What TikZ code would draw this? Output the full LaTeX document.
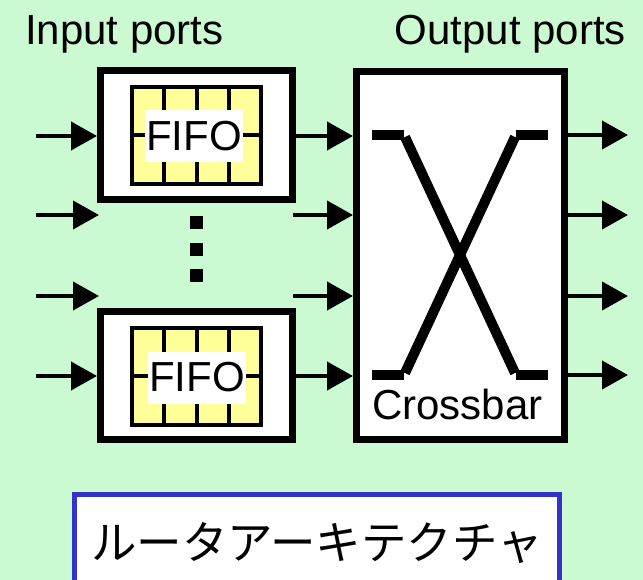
\documentclass[tikz,border=0pt]{standalone}
\usepackage{fontspec}
\setmainfont{Liberation Sans}
\newfontfamily\jpfont{Noto Sans CJK JP}
\usetikzlibrary{arrows.meta}

\definecolor{bgreen}{RGB}{202,249,210}
\definecolor{fifoyellow}{RGB}{255,255,153}
\definecolor{framblue}{RGB}{51,51,204}

\tikzset{
  x=1pt, y=-1pt,
  bigfont/.style={font=\fontsize{42}{48}\selectfont},
  portarrow/.style={line width=4pt, -{Triangle[length=26pt,width=28pt]}},
  heavybox/.style={draw=black, fill=white, line width=7pt, inner sep=0pt},
  fifolabel/.style={fill=white, inner sep=0pt, minimum width=98pt, minimum height=52pt, bigfont},
  switchline/.style={line width=10pt, line cap=butt},
  dotsq/.style={fill=black, draw=none, minimum size=13pt, inner sep=0pt},
}

\begin{document}
\begin{tikzpicture}
  % page and background
  \useasboundingbox (0,0) rectangle (643,580);
  \clip (0,0) rectangle (643,580);
  \fill[bgreen] (0,0) rectangle (643,580);

  % headings
  \node[bigfont, anchor=base west, inner sep=0pt] (inlbl) at (25,45) {Input ports};
  \node[bigfont, anchor=base east, inner sep=0pt] (outlbl) at (626,45) {Output ports};

  % input queue modules
  \node[heavybox, minimum width=192pt, minimum height=129pt] (fifoA) at (196.5,135) {};
  \node[heavybox, minimum width=192pt, minimum height=128pt] (fifoB) at (196.5,375.5) {};

  % queue cells inside each module
  \foreach \cy in {135.5,376} {
    \fill[fifoyellow] (132,\cy-48.5) rectangle (261,\cy+48.5);
    \foreach \cx in {164.25,196.5,228.75}
      \draw[line width=4pt] (\cx,\cy-48.5) -- (\cx,\cy+48.5);
    \draw[line width=4pt] (132,\cy) -- (261,\cy);
    \draw[line width=4pt] (132,\cy-48.5) rectangle (261,\cy+48.5);
  }
  \node[fifolabel] (labA) at (194,136) {FIFO};
  \node[fifolabel] (labB) at (197,377.5) {FIFO};

  % ellipsis between the modules
  \node[dotsq] (d1) at (196.5,222.5) {};
  \node[dotsq] (d2) at (196.5,249.5) {};
  \node[dotsq] (d3) at (196.5,275.5) {};

  % crossbar switch
  \node[heavybox, minimum width=208pt, minimum height=368pt] (xbar) at (460.5,255.5) {};
  \draw[switchline] (372,135) -- (404,135);
  \draw[switchline] (516,135) -- (548,135);
  \draw[switchline] (372,375) -- (404,375);
  \draw[switchline] (516,375) -- (548,375);
  \draw[switchline] (405,137) -- (515,373);
  \draw[switchline] (515,137) -- (405,373);
  \node[bigfont, anchor=base, inner sep=0pt] (xlbl) at (457.5,419) {Crossbar};

  % free ends of the port lines
  \coordinate (i1) at (36,136);
  \coordinate (i2) at (36,215);
  \coordinate (i3) at (36,296);
  \coordinate (i4) at (36,376);
  \coordinate (m2) at (293,215);
  \coordinate (m3) at (293,296);
  \coordinate (o1) at (628,135);
  \coordinate (o2) at (628,215);
  \coordinate (o3) at (628,296);
  \coordinate (o4) at (628,375);

  % input links
  \draw[portarrow] (i1) -- (i1 -| fifoA.west);
  \draw[portarrow] (i2) -- (99,215);
  \draw[portarrow] (i3) -- (99,296);
  \draw[portarrow] (i4) -- (i4 -| fifoB.west);

  % queue to crossbar links
  \draw[portarrow] (fifoA.east |- i1) -- (i1 -| xbar.west);
  \draw[portarrow] (m2) -- (m2 -| xbar.west);
  \draw[portarrow] (m3) -- (m3 -| xbar.west);
  \draw[portarrow] (fifoB.east |- i4) -- (i4 -| xbar.west);

  % output links
  \draw[portarrow] (o1 -| xbar.east) -- (o1);
  \draw[portarrow] (o2 -| xbar.east) -- (o2);
  \draw[portarrow] (o3 -| xbar.east) -- (o3);
  \draw[portarrow] (o4 -| xbar.east) -- (o4);

  % caption box
  \draw[framblue, line width=5pt, fill=white] (74.5,494.5) rectangle (559.5,600);
  \node[font=\jpfont\fontsize{45.5}{50}\selectfont, inner sep=0pt] (title) at (317,543) {ルータアーキテクチャ};
\end{tikzpicture}
\end{document}
